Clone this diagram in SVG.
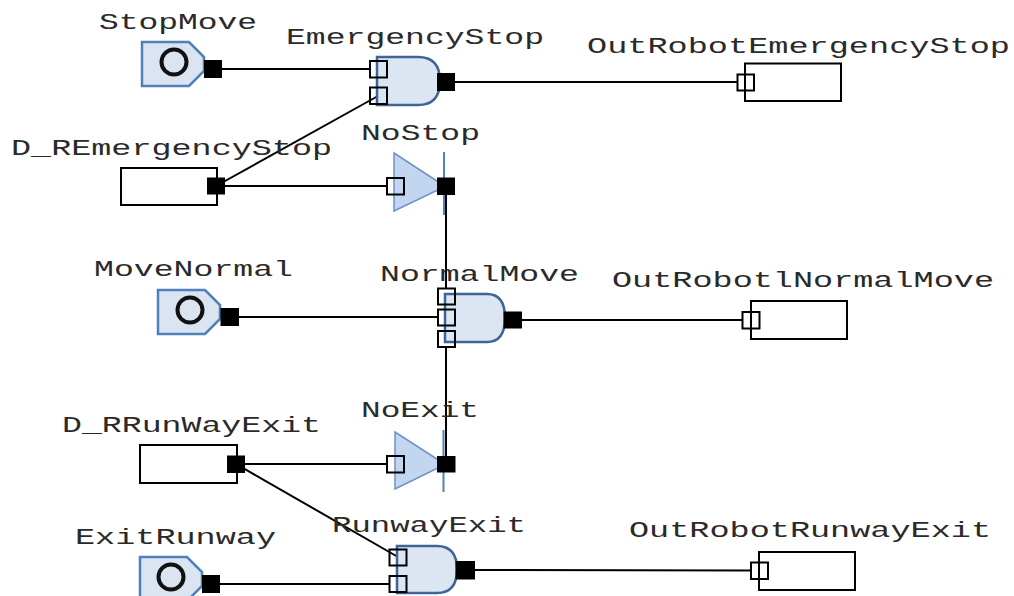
<svg xmlns="http://www.w3.org/2000/svg" width="1014" height="596" viewBox="0 0 1014 596">
<style>
text{font-family:"Liberation Mono","Courier New",monospace;font-size:22px;fill:#2a2a2a}
.src{fill:#dbe5f1;stroke:#4f81bd;stroke-width:2.5}
.dot{fill:none;stroke:#111;stroke-width:4}
.gate{fill:#dce6f2;stroke:#3f6598;stroke-width:2.5}
.buf{fill:#c2d6f0;stroke:#6f92c8;stroke-width:1.5}
.bar{stroke:#4f81bd;stroke-width:2}
.pin{fill:none;stroke:#000;stroke-width:2}
.pout{fill:#000}
.box{fill:#fff;stroke:#000;stroke-width:2}
.wire{stroke:#000;stroke-width:2;fill:none}
</style>
<rect width="1014" height="596" fill="#fff"/>

<g id="connectors">
<line class="wire" x1="222" y1="69" x2="370" y2="69"/>
<line class="wire" x1="216" y1="186" x2="378" y2="96"/>
<line class="wire" x1="225" y1="186" x2="387" y2="186"/>
<line class="wire" x1="455" y1="82" x2="737" y2="82"/>
<line class="wire" x1="446" y1="195" x2="446" y2="288"/>
<line class="wire" x1="239" y1="317" x2="438" y2="317"/>
<line class="wire" x1="446" y1="456" x2="446" y2="347"/>
<line class="wire" x1="522" y1="320" x2="742" y2="320"/>
<line class="wire" x1="245" y1="464" x2="387" y2="464"/>
<line class="wire" x1="236" y1="464" x2="398" y2="557"/>
<line class="wire" x1="220" y1="584" x2="389" y2="584"/>
<line class="wire" x1="475" y1="570" x2="751" y2="570.5"/>
</g>

<g id="StopMove">
<path class="src" d="M142,42 H189 L204,57 V71 L189,86 H142 Z"/>
<circle class="dot" cx="174" cy="62" r="12.5"/>
<rect class="pout" x="204" y="60" width="18" height="18"/>
<text x="99" y="28.5" textLength="158" lengthAdjust="spacingAndGlyphs">StopMove</text>
</g>

<g id="MoveNormal">
<path class="src" d="M158,290 H205 L220,305 V319 L205,334 H158 Z"/>
<circle class="dot" cx="190" cy="310" r="12.5"/>
<rect class="pout" x="220.5" y="308" width="18.5" height="18"/>
<text x="94" y="276" textLength="199" lengthAdjust="spacingAndGlyphs">MoveNormal</text>
</g>

<g id="ExitRunway">
<path class="src" d="M140,557 H187 L202,572 V586 L187,601 H140 Z"/>
<circle class="dot" cx="171" cy="577" r="12.5"/>
<rect class="pout" x="202" y="575" width="18" height="18"/>
<text x="75" y="543.5" textLength="201" lengthAdjust="spacingAndGlyphs">ExitRunway</text>
</g>

<g id="D_REmergencyStop">
<rect class="box" x="121" y="168" width="96" height="37"/>
<rect class="pout" x="207" y="177.5" width="18" height="17"/>
<text x="11" y="155" textLength="321" lengthAdjust="spacingAndGlyphs">D_REmergencyStop</text>
</g>

<g id="D_RRunWayExit">
<rect class="box" x="140" y="445" width="97" height="38"/>
<rect class="pout" x="227" y="455.5" width="18" height="17.5"/>
<text x="62" y="431.5" textLength="259" lengthAdjust="spacingAndGlyphs">D_RRunWayExit</text>
</g>

<g id="EmergencyStop">
<path class="gate" d="M377,57 H418 Q440,57 440,81 Q440,105 418,105 H377 Z"/>
<rect class="pin" x="370" y="61" width="17" height="16.5"/>
<rect class="pin" x="370" y="87.5" width="17" height="16.5"/>
<rect class="pout" x="437" y="73" width="18" height="18"/>
<text x="286" y="44" textLength="258" lengthAdjust="spacingAndGlyphs">EmergencyStop</text>
</g>

<g id="NoStop">
<polygon class="buf" points="394,153 440,183 440,189 394,211"/>
<line class="bar" x1="444" y1="152" x2="444" y2="215"/>
<rect class="pin" x="387" y="178" width="17" height="16.5"/>
<rect class="pout" x="437" y="177.5" width="18" height="17.5"/>
<text x="361" y="140" textLength="119" lengthAdjust="spacingAndGlyphs">NoStop</text>
</g>

<g id="NormalMove">
<path class="gate" d="M445,294 H487 Q505,294 505,318 Q505,342 487,342 H445 Z"/>
<rect class="pin" x="438" y="288.5" width="17" height="16"/>
<rect class="pin" x="438" y="309.5" width="17" height="16"/>
<rect class="pin" x="438" y="331" width="17" height="16"/>
<rect class="pout" x="503.5" y="311.5" width="18.5" height="17"/>
<text x="380" y="281" textLength="199" lengthAdjust="spacingAndGlyphs">NormalMove</text>
</g>

<g id="NoExit">
<polygon class="buf" points="395,432 440,461 440,467 395,489"/>
<line class="bar" x1="443.5" y1="430" x2="443.5" y2="492"/>
<rect class="pin" x="387" y="456" width="17" height="16.5"/>
<rect class="pout" x="437" y="456" width="18.5" height="16.5"/>
<text x="361" y="417" textLength="118" lengthAdjust="spacingAndGlyphs">NoExit</text>
</g>

<g id="RunwayExit">
<path class="gate" d="M397,546 H437 Q457,546 457,569.5 Q457,593 437,593 H397 Z"/>
<rect class="pin" x="389.5" y="549.5" width="17" height="16"/>
<rect class="pin" x="389.5" y="576" width="17" height="16"/>
<rect class="pout" x="455.5" y="561" width="19.5" height="18.5"/>
<text x="332" y="532" textLength="194" lengthAdjust="spacingAndGlyphs">RunwayExit</text>
</g>

<g id="OutRobotEmergencyStop">
<rect class="box" x="745" y="63.5" width="96" height="37.5"/>
<rect class="pin" x="737.5" y="74.5" width="16.5" height="16"/>
<text x="587" y="53" textLength="423" lengthAdjust="spacingAndGlyphs">OutRobotEmergencyStop</text>
</g>

<g id="OutRobotlNormalMove">
<rect class="box" x="751" y="301" width="96" height="38"/>
<rect class="pin" x="742.5" y="312" width="17" height="16.5"/>
<text x="612" y="287" textLength="382" lengthAdjust="spacingAndGlyphs">OutRobotlNormalMove</text>
</g>

<g id="OutRobotRunwayExit">
<rect class="box" x="759" y="552" width="96" height="38"/>
<rect class="pin" x="751" y="562.5" width="17" height="16.5"/>
<text x="629" y="537" textLength="362" lengthAdjust="spacingAndGlyphs">OutRobotRunwayExit</text>
</g>
</svg>
